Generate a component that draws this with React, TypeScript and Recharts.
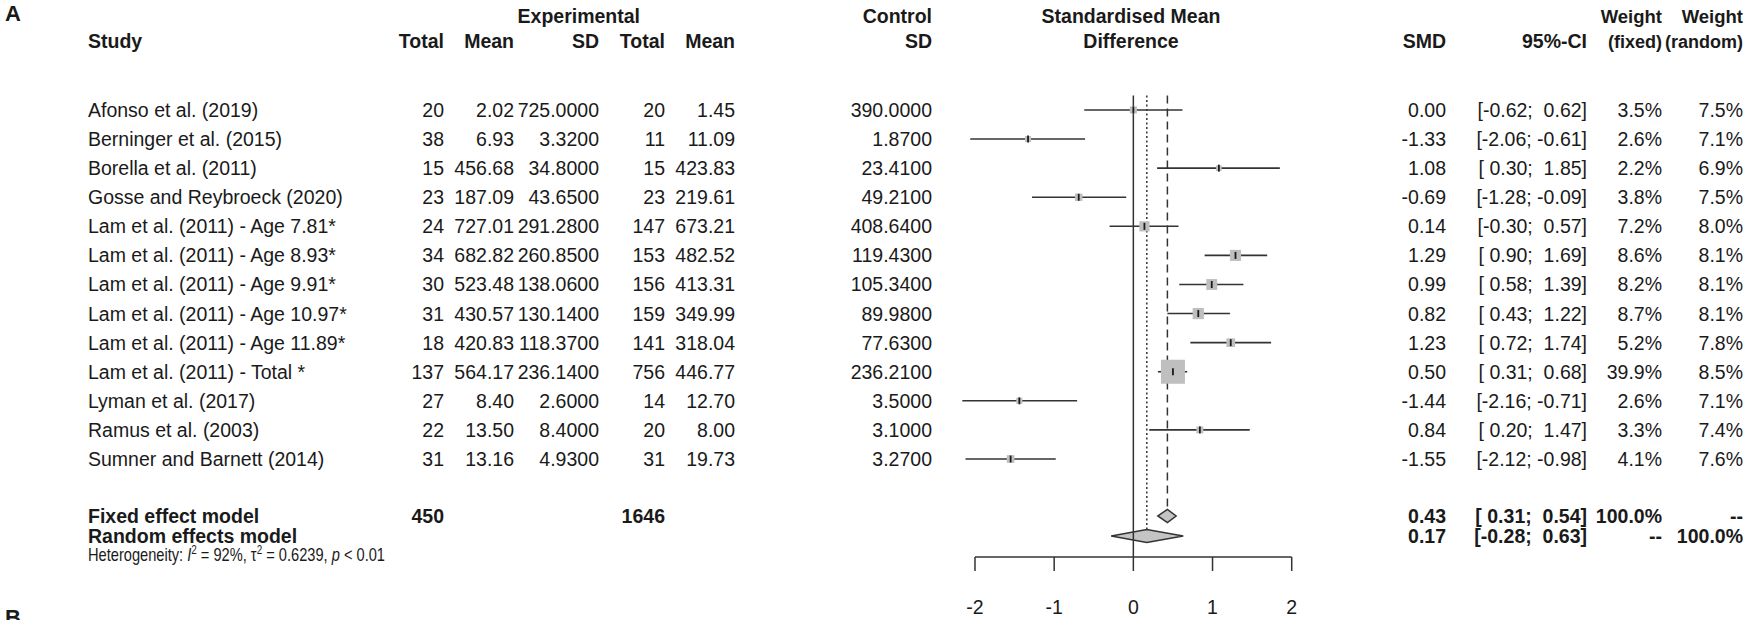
import React from 'react';
import {
  ScatterChart,
  Scatter,
  XAxis,
  YAxis,
  ErrorBar,
  ReferenceLine,
  ReferenceArea,
  Customized,
} from 'recharts';

const FONT = "'Liberation Sans', Arial, Helvetica, sans-serif";
const NARROW = "'Liberation Sans Narrow', 'Arial Narrow', 'Liberation Sans', Arial, sans-serif";
const INK = '#1a1a1a';
const LINE = '#333333';
const FS = 19.5;

// study table
const studies = [
  'Afonso et al. (2019)',
  'Berninger et al. (2015)',
  'Borella et al. (2011)',
  'Gosse and Reybroeck (2020)',
  'Lam et al. (2011) - Age 7.81*',
  'Lam et al. (2011) - Age 8.93*',
  'Lam et al. (2011) - Age 9.91*',
  'Lam et al. (2011) - Age 10.97*',
  'Lam et al. (2011) - Age 11.89*',
  'Lam et al. (2011) - Total *',
  'Lyman et al. (2017)',
  'Ramus et al. (2003)',
  'Sumner and Barnett (2014)',
];
const expTotal = [20, 38, 15, 23, 24, 34, 30, 31, 18, 137, 27, 22, 31];
const expMean = [2.02, 6.93, 456.68, 187.09, 727.01, 682.82, 523.48, 430.57, 420.83, 564.17, 8.4, 13.5, 13.16];
const expSD = [725, 3.32, 34.8, 43.65, 291.28, 260.85, 138.06, 130.14, 118.37, 236.14, 2.6, 8.4, 4.93];
const ctlTotal = [20, 11, 15, 23, 147, 153, 156, 159, 141, 756, 14, 20, 31];
const ctlMean = [1.45, 11.09, 423.83, 219.61, 673.21, 482.52, 413.31, 349.99, 318.04, 446.77, 12.7, 8.0, 19.73];
const ctlSD = [390, 1.87, 23.41, 49.21, 408.64, 119.43, 105.34, 89.98, 77.63, 236.21, 3.5, 3.1, 3.27];
const smd = [0.0, -1.33, 1.08, -0.69, 0.14, 1.29, 0.99, 0.82, 1.23, 0.5, -1.44, 0.84, -1.55];
const ciLow = [-0.62, -2.06, 0.3, -1.28, -0.3, 0.9, 0.58, 0.43, 0.72, 0.31, -2.16, 0.2, -2.12];
const ciHigh = [0.62, -0.61, 1.85, -0.09, 0.57, 1.69, 1.39, 1.22, 1.74, 0.68, -0.71, 1.47, -0.98];
const weightFixed = [3.5, 2.6, 2.2, 3.8, 7.2, 8.6, 8.2, 8.7, 5.2, 39.9, 2.6, 3.3, 4.1];
const weightRandom = [7.5, 7.1, 6.9, 7.5, 8.0, 8.1, 8.1, 8.1, 7.8, 8.5, 7.1, 7.4, 7.6];

// pooled estimates
const summaryLabels = ['Fixed effect model', 'Random effects model'];
const summaryExpTotal = [450, null];
const summaryCtlTotal = [1646, null];
const summarySmd = [0.43, 0.17];
const summaryLow = [0.31, -0.28];
const summaryHigh = [0.54, 0.63];
const summaryWFixed = [100, null];
const summaryWRandom = [null, 100];

const xTicks = [-2, -1, 0, 1, 2];

// column anchors (right edges unless noted)
const COL = {
  study: 88,
  eTotal: 444,
  eMean: 514,
  eSD: 599,
  cTotal: 665,
  cMean: 735,
  cSD: 932,
  smd: 1446,
  ci: 1587,
  wF: 1662,
  wR: 1743,
};

// vertical layout, in row units
const SUMMARY_GAP = 1.96; // blank space between last study and fixed model
const SUMMARY_STEP = 0.69; // summary rows are packed tighter
const AXIS_GAP = 0.72; // random row -> axis line
const DIAMOND_HALF = 0.224;
const SQUARE_K = 3.8;

const fmtCi = (v: number) => (v < 0 ? '' : ' ') + v.toFixed(2);
const fmtW = (v: number | null) => (v == null ? '--' : `${v.toFixed(1)}%`);

interface Row {
  row: number;
  est: number;
  label: string;
  eTotal: string;
  eMean: string;
  eSD: string;
  cTotal: string;
  cMean: string;
  cSD: string;
  ci: string;
  ciErr: [number, number];
  wF: string;
  wR: string;
  weight: number;
  bold: boolean;
}

const studyRows: Row[] = studies.map((label, i) => ({
  row: i + 1,
  est: smd[i],
  label,
  eTotal: String(expTotal[i]),
  eMean: expMean[i].toFixed(2),
  eSD: expSD[i].toFixed(4),
  cTotal: String(ctlTotal[i]),
  cMean: ctlMean[i].toFixed(2),
  cSD: ctlSD[i].toFixed(4),
  ci: `[${fmtCi(ciLow[i])}; ${fmtCi(ciHigh[i])}]`,
  ciErr: [smd[i] - ciLow[i], ciHigh[i] - smd[i]],
  wF: fmtW(weightFixed[i]),
  wR: fmtW(weightRandom[i]),
  weight: weightFixed[i],
  bold: false,
}));

const summaryRows: Row[] = summaryLabels.map((label, i) => ({
  row: studies.length + SUMMARY_GAP + i * SUMMARY_STEP,
  est: summarySmd[i],
  label,
  eTotal: summaryExpTotal[i] == null ? '' : String(summaryExpTotal[i]),
  eMean: '',
  eSD: '',
  cTotal: summaryCtlTotal[i] == null ? '' : String(summaryCtlTotal[i]),
  cMean: '',
  cSD: '',
  ci: `[${fmtCi(summaryLow[i])}; ${fmtCi(summaryHigh[i])}]`,
  ciErr: [summarySmd[i] - summaryLow[i], summaryHigh[i] - summarySmd[i]],
  wF: fmtW(summaryWFixed[i]),
  wR: fmtW(summaryWRandom[i]),
  weight: 0,
  bold: true,
}));

const allRows = [...studyRows, ...summaryRows];

function SquareShape(props: any) {
  const { cx, cy, payload } = props;
  const s = SQUARE_K * Math.sqrt(payload.weight);
  return <rect x={cx - s / 2} y={cy - s / 2} width={s} height={s} fill="#bfbfbf" />;
}

function TickShape(props: any) {
  const { cx, cy } = props;
  return <line x1={cx} x2={cx} y1={cy - 3.5} y2={cy + 3.5} stroke={INK} strokeWidth={1.8} />;
}

function RowText(props: any) {
  const { cy, payload } = props;
  const y = cy + 7;
  const weight = payload.bold ? 700 : 400;
  const cell = (x: number, s: string, anchor: 'start' | 'end' = 'end') =>
    s ? (
      <text
        x={x}
        y={y}
        textAnchor={anchor}
        fontFamily={FONT}
        fontSize={FS}
        fontWeight={weight}
        fill={INK}
        style={{ whiteSpace: 'pre' }}
      >
        {s}
      </text>
    ) : null;
  return (
    <g>
      {cell(COL.study, payload.label, 'start')}
      {cell(COL.eTotal, payload.eTotal)}
      {cell(COL.eMean, payload.eMean)}
      {cell(COL.eSD, payload.eSD)}
      {cell(COL.cTotal, payload.cTotal)}
      {cell(COL.cMean, payload.cMean)}
      {cell(COL.cSD, payload.cSD)}
      {cell(COL.smd, payload.est.toFixed(2))}
      {cell(COL.ci, payload.ci)}
      {cell(COL.wF, payload.wF)}
      {cell(COL.wR, payload.wR)}
    </g>
  );
}

function Headers() {
  const h1 = 23;
  const h2 = 48;
  const t = (
    x: number,
    y: number,
    s: string,
    anchor: 'start' | 'middle' | 'end' = 'end',
    size: number = FS,
  ) => (
    <text x={x} y={y} textAnchor={anchor} fontFamily={FONT} fontSize={size} fontWeight={700} fill={INK}>
      {s}
    </text>
  );
  return (
    <g>
      <text x={5} y={20.5} fontFamily={FONT} fontSize={22} fontWeight={700} fill={INK}>
        A
      </text>
      <text x={5} y={625} fontFamily={FONT} fontSize={22} fontWeight={700} fill={INK}>
        B
      </text>
      {t(640, h1, 'Experimental')}
      {t(COL.cSD, h1, 'Control')}
      {t(1131, h1, 'Standardised Mean', 'middle')}
      {t(COL.wF, h1, 'Weight', 'end', 18.5)}
      {t(COL.wR, h1, 'Weight', 'end', 18.5)}
      {t(COL.study, h2, 'Study', 'start')}
      {t(COL.eTotal, h2, 'Total')}
      {t(COL.eMean, h2, 'Mean')}
      {t(COL.eSD, h2, 'SD')}
      {t(COL.cTotal, h2, 'Total')}
      {t(COL.cMean, h2, 'Mean')}
      {t(COL.cSD, h2, 'SD')}
      {t(1131, h2, 'Difference', 'middle')}
      {t(COL.smd, h2, 'SMD')}
      {t(COL.ci, h2, '95%-CI')}
      {t(COL.wF, h2, '(fixed)', 'end', 18)}
      {t(COL.wR, h2, '(random)', 'end', 18)}
      <text
        x={COL.study}
        y={561}
        fontFamily={NARROW}
        fontSize={18.5}
        fill={INK}
        textLength={297}
        lengthAdjust="spacingAndGlyphs"
        style={{ whiteSpace: 'pre' }}
      >
        {'Heterogeneity: '}
        <tspan fontStyle="italic">I</tspan>
        <tspan dy={-7} fontSize={12.5}>2</tspan>
        <tspan dy={7}>{' = 92%, τ'}</tspan>
        <tspan dy={-7} fontSize={12.5}>2</tspan>
        <tspan dy={7}>{' = 0.6239, '}</tspan>
        <tspan fontStyle="italic">p</tspan>
        {' < 0.01'}
      </text>
    </g>
  );
}

function diamondShape(frac: number) {
  return (p: any) => {
    const { x, y, width, height } = p;
    const mx = x + width * frac;
    const my = y + height / 2;
    return (
      <polygon
        points={`${x},${my} ${mx},${y} ${x + width},${my} ${mx},${y + height}`}
        fill="#c4c4c4"
        stroke={LINE}
        strokeWidth={1.5}
      />
    );
  };
}

export default function App() {
  const lastRow = summaryRows[summaryRows.length - 1].row;
  const yDomain: [number, number] = [0.5, lastRow + AXIS_GAP];
  return (
    <div style={{ position: 'absolute', left: 0, top: 0, background: '#fff' }}>
      <ScatterChart
        width={1747}
        height={620}
        margin={{ top: 95.45, right: 415.7, bottom: 0, left: 935.4 }}
      >
        <XAxis
          type="number"
          dataKey="est"
          domain={[-2.5, 2.5]}
          ticks={xTicks}
          interval={0}
          axisLine={false}
          tickSize={14}
          tickMargin={29}
          height={63}
          tickLine={{ stroke: LINE, strokeWidth: 1.5 }}
          tick={{ fill: INK, fontSize: FS, fontFamily: FONT }}
        />
        <YAxis type="number" dataKey="row" domain={yDomain} reversed hide />
        <ReferenceLine
          segment={[
            { x: -2, y: yDomain[1] },
            { x: 2, y: yDomain[1] },
          ]}
          stroke={LINE}
          strokeWidth={1.5}
        />
        <ReferenceLine x={0} stroke={LINE} strokeWidth={1.5} />
        <ReferenceLine
          segment={[
            { x: summarySmd[1], y: yDomain[0] },
            { x: summarySmd[1], y: summaryRows[1].row - DIAMOND_HALF },
          ]}
          stroke={LINE}
          strokeWidth={1.5}
          strokeDasharray="2 2.5"
        />
        <ReferenceLine
          segment={[
            { x: summarySmd[0], y: yDomain[0] },
            { x: summarySmd[0], y: summaryRows[0].row - DIAMOND_HALF },
          ]}
          stroke={LINE}
          strokeWidth={1.5}
          strokeDasharray="8 5"
        />
        {summaryRows.map((r, i) => (
          <ReferenceArea
            key={r.label}
            x1={summaryLow[i]}
            x2={summaryHigh[i]}
            y1={r.row - DIAMOND_HALF}
            y2={r.row + DIAMOND_HALF}
            shape={diamondShape((summarySmd[i] - summaryLow[i]) / (summaryHigh[i] - summaryLow[i]))}
          />
        ))}
        <Scatter data={studyRows} shape={<SquareShape />} isAnimationActive={false} />
        <Scatter data={studyRows} shape={<TickShape />} isAnimationActive={false}>
          <ErrorBar
            dataKey="ciErr"
            direction="x"
            width={0}
            stroke={LINE}
            strokeWidth={1.6}
            isAnimationActive={false}
          />
        </Scatter>
        <Scatter data={allRows} shape={<RowText />} isAnimationActive={false} />
        <Customized component={Headers} />
      </ScatterChart>
    </div>
  );
}
